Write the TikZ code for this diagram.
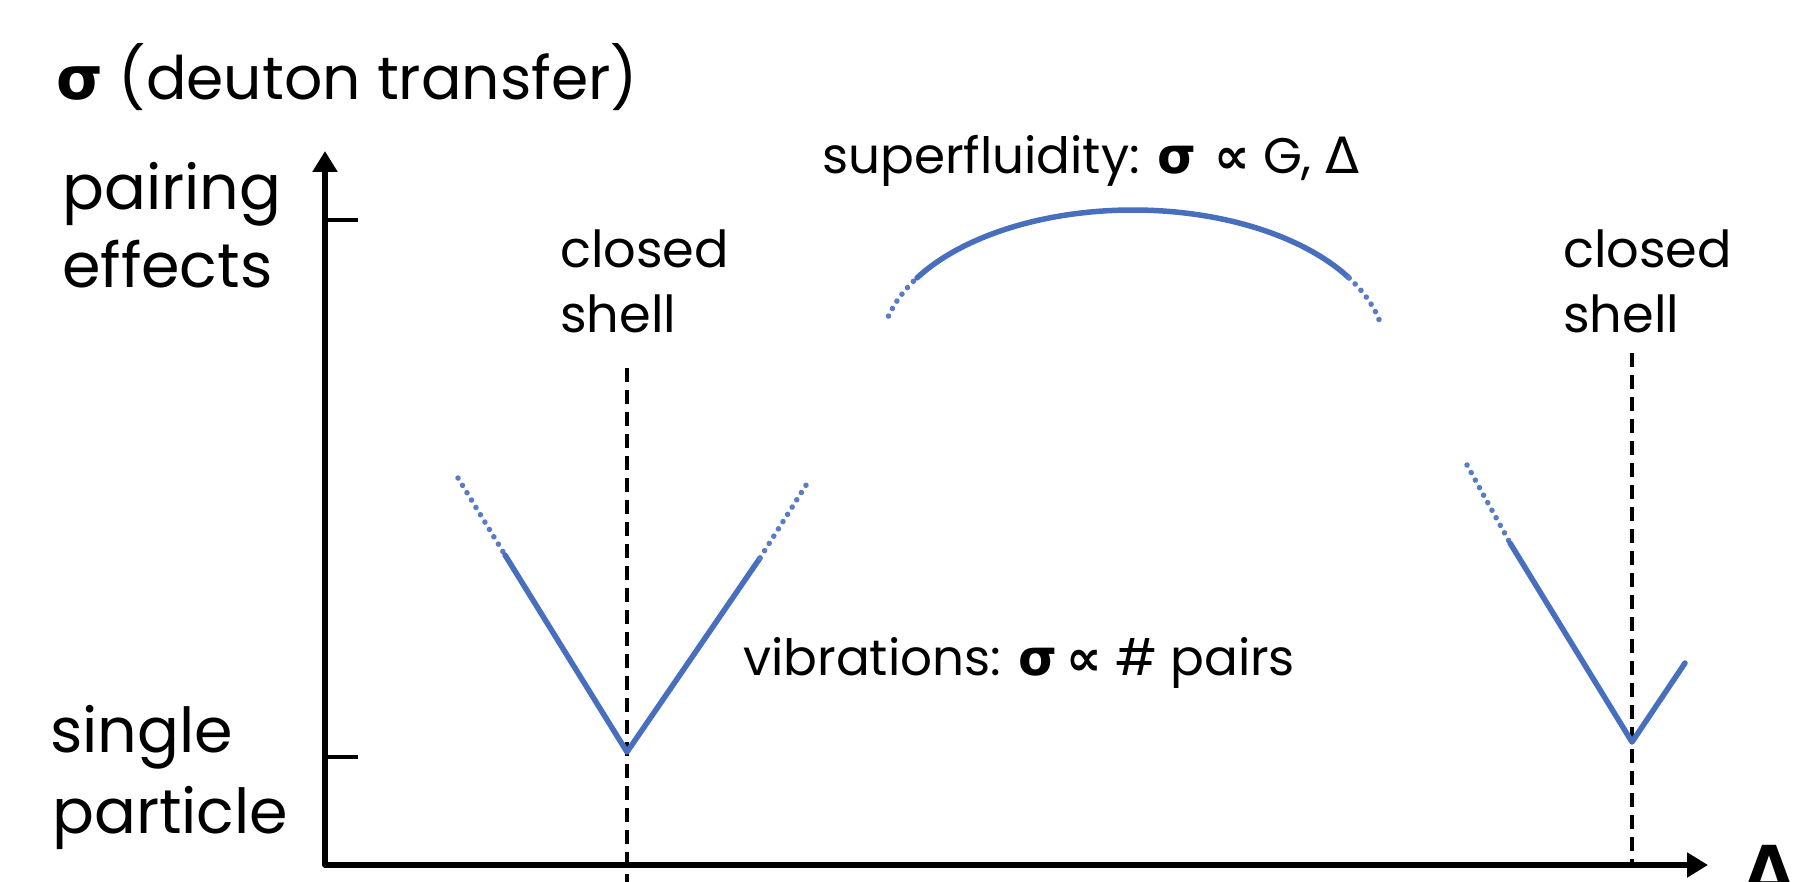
\documentclass[tikz,border=0pt]{standalone}
\usepackage{fontspec}
\setmainfont{Poppins}
\newfontfamily\gr{DejaVu Sans}
\usetikzlibrary{arrows.meta}
\definecolor{curveblue}{RGB}{72,110,190}
\begin{document}
\begin{tikzpicture}[x=1pt,y=-1pt,
  txt/.style={inner sep=0pt, anchor=base west},
  big/.style={txt, font=\fontsize{62}{78}\selectfont},
  mid/.style={txt, font=\fontsize{51}{65}\selectfont},
  axisline/.style={line width=5.5pt, line join=round},
  tickline/.style={line width=4pt},
  dashline/.style={line width=4.5pt, dash pattern=on 14pt off 8pt},
  solidblue/.style={curveblue, line width=5.5pt, line cap=round, line join=round},
  dotblue/.style={curveblue!90, line width=5.5pt, line cap=round, dash pattern=on 0.1pt off 8.5pt}]
\useasboundingbox (0,0) rectangle (1818,882);
% axes
\coordinate (O) at (325,865);
\coordinate (ytip) at (325,151);
\coordinate (xtip) at (1708,865);
\draw[axisline, {Triangle[length=21pt,width=24pt]}-{Triangle[length=21pt,width=24pt]}] (ytip) -- (O) -- (xtip);
% ticks
\coordinate (t1a) at (325,220); \coordinate (t1b) at (358,220);
\coordinate (t2a) at (325,757); \coordinate (t2b) at (358,757);
\draw[tickline] (t1a) -- (t1b);
\draw[tickline] (t2a) -- (t2b);
% dashed closed-shell lines
\coordinate (d1a) at (627,368); \coordinate (d1b) at (627,882);
\coordinate (d2a) at (1632,353); \coordinate (d2b) at (1632,865);
\draw[dashline] (d1a) -- (d1b);
\draw[dashline] (d2a) -- (d2b);
% left V
\coordinate (a1) at (458,478); \coordinate (a2) at (505,555);
\coordinate (a3) at (627,752); \coordinate (a4) at (760,558);
\coordinate (a5) at (808,482);
\draw[dotblue] (a1) -- (a2);
\draw[solidblue] (a2) -- (a3) -- (a4);
\draw[dotblue] (a4) -- (a5);
% right V
\coordinate (b1) at (1467,465); \coordinate (b2) at (1510,543);
\coordinate (b3) at (1632,742); \coordinate (b4) at (1685,663);
\draw[dotblue] (b1) -- (b2);
\draw[solidblue] (b2) -- (b3) -- (b4);
% superfluid arc
\draw[solidblue] plot[domain=149:31, samples=80, smooth] ({1133+252*cos(\x)},{350-140*sin(\x)});
\draw[dotblue] plot[domain=166:149, samples=20, smooth] ({1133+252*cos(\x)},{350-140*sin(\x)});
\draw[dotblue] plot[domain=31:12, samples=20, smooth] ({1133+252*cos(\x)},{350-140*sin(\x)});
% texts
\node[big, font=\fontsize{60}{78}\selectfont] (title) at (56,100) {{\gr\bfseries σ} (deuton transfer)};
\node[big] (pair) at (62,210) {pairing};
\node[big] (eff) at (62,288) {effects};
\node[big] (sing) at (50,752) {single};
\node[big] (part) at (52,833) {particle};
\node[mid] (cs1a) at (560,268) {closed};
\node[mid] (cs1b) at (560,333) {shell};
\node[mid] (cs2a) at (1563,268) {closed};
\node[mid] (cs2b) at (1563,333) {shell};
\node[mid, font=\fontsize{50}{65}\selectfont] (sf) at (822,174) {superfluidity: {\gr\bfseries σ ∝} G, {\gr Δ}};
\node[mid, font=\fontsize{50}{65}\selectfont] (vib) at (743,675) {vibrations: {\gr\bfseries σ\,∝} \# pairs};
\node[big] (delta) at (1745,890) {\gr\bfseries Δ};
\end{tikzpicture}
\end{document}
